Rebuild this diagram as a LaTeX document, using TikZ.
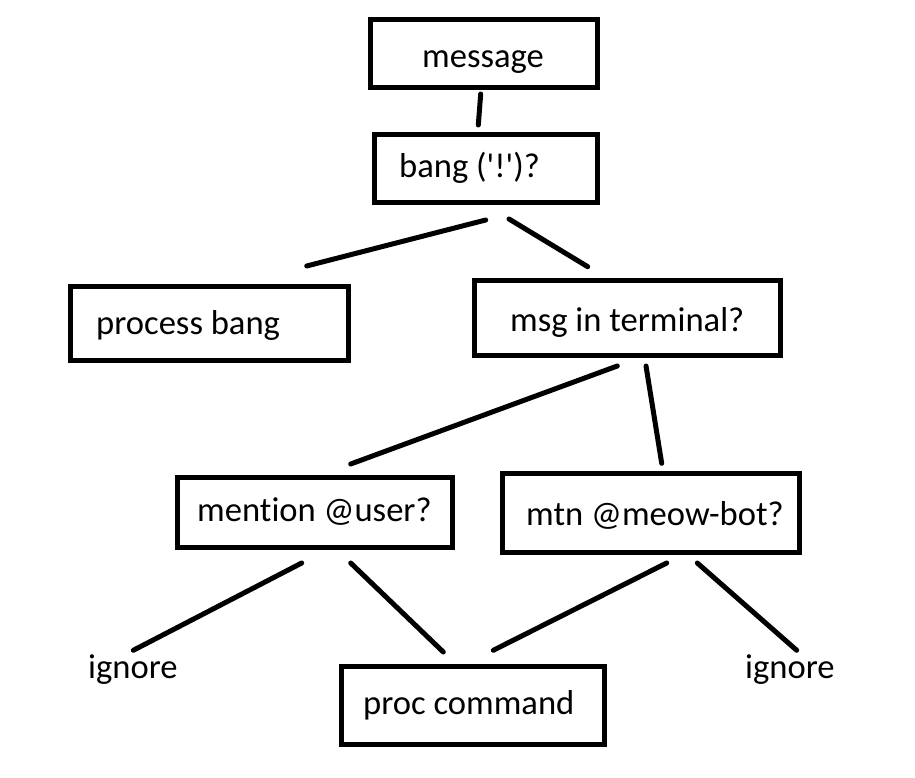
\documentclass[tikz,border=0pt]{standalone}
\usepackage{fontspec}
\setmainfont{Carlito}[Ligatures={TeXOff,NoCommon}]
\begin{document}
\begin{tikzpicture}[x=1pt,y=-1pt,
  box/.style={draw=black, line width=5pt, fill=white, inner sep=0pt},
  lbl/.style={anchor=base west, inner sep=0pt, font=\fontsize{34.6}{38}\selectfont},
  conn/.style={line width=5pt, line cap=round}]
\useasboundingbox[fill=white] (0,0) rectangle (915,778);
% boxes (path centre lines)
\draw[box] (370.5,19.5) rectangle (597.5,87.5);
\node[lbl] (message) at (422,68) {message};
\draw[box] (374.5,134.5) rectangle (597.5,202.5);
\node[lbl] (bang) at (399,178) {bang ('!')?};
\draw[box] (70.5,286.5) rectangle (348.5,360.5);
\node[lbl] (process) at (96,334) {process bang};
\draw[box] (474.5,280.5) rectangle (780.5,355.5);
\node[lbl] (terminal) at (510,331) {msg in terminal?};
\draw[box] (177.5,477.5) rectangle (452.5,547.5);
\node[lbl] (mention) at (197,521) {mention @user?};
\draw[box] (502.5,473.5) rectangle (799.5,552.5);
\node[lbl] (mtn) at (526,525) {mtn @meow-bot?};
\draw[box] (341.5,666.5) rectangle (604.5,744.5);
\node[lbl] (proc) at (363,714) {proc command};
\node[lbl] (ignoreL) at (88,678) {ignore};
\node[lbl] (ignoreR) at (745,678) {ignore};
% connector ends
\coordinate (c0a) at (480.7,94);   \coordinate (c0b) at (478.3,125);
\coordinate (c1a) at (485.7,220);  \coordinate (c1b) at (306.7,266);
\coordinate (c2a) at (509,219);    \coordinate (c2b) at (587.7,266.7);
\coordinate (c3a) at (617.3,366);  \coordinate (c3b) at (350.7,464);
\coordinate (c4a) at (646,366);    \coordinate (c4b) at (661.7,463.3);
\coordinate (c5a) at (301.7,563);  \coordinate (c5b) at (133.3,650.3);
\coordinate (c6a) at (350.7,563);  \coordinate (c6b) at (443.3,652);
\coordinate (c7a) at (666.7,563);  \coordinate (c7b) at (493.3,650.3);
\coordinate (c8a) at (697.3,563);  \coordinate (c8b) at (796.7,650.3);
\foreach \i in {0,...,8} \draw[conn] (c\i a) -- (c\i b);
\end{tikzpicture}
\end{document}
